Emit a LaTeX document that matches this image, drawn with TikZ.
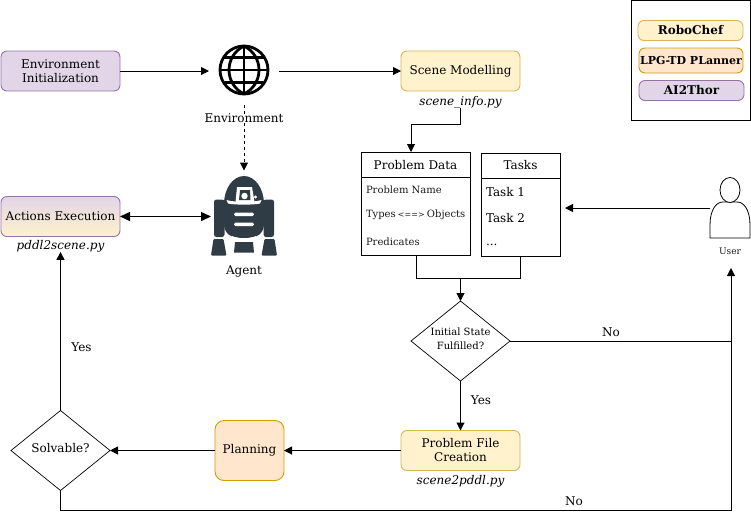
\documentclass[tikz,border=0pt]{standalone}
\usepackage{fontspec}
\setmainfont{DejaVu Serif}
\usetikzlibrary{arrows.meta,shapes.geometric,calc}
\definecolor{purpF}{HTML}{E1D5E7}
\definecolor{purpS}{HTML}{9673A6}
\definecolor{yelF}{HTML}{FFF2CC}
\definecolor{yelS}{HTML}{D6B656}
\definecolor{orF}{HTML}{FFE6CC}
\definecolor{orS}{HTML}{D79B00}
\definecolor{robo}{HTML}{2F3C45}
\tikzset{
  x=1pt,y=-1pt,
  fs/.style={font=\fontsize{#1}{14}\selectfont},
  base/.style={inner sep=0pt,outer sep=0pt,align=center,line width=0.9pt},
  rbox/.style={base,draw,rounded corners=6pt,fs=12},
  purpbox/.style={rbox,draw=purpS,fill=purpF},
  yelbox/.style={rbox,draw=yelS,fill=yelF},
  orbox/.style={rbox,draw=orS,fill=orF},
  tablebox/.style={base,draw=black,rectangle},
  txt/.style={base,fs=12},
  smalltxt/.style={base,fs=10,text=black!90},
  pyfile/.style={base,font=\fontsize{12}{14}\selectfont\itshape},
  decision/.style={base,draw=black,diamond,aspect=1.25,line width=0.7pt},
  conn/.style={line width=1pt,-{Triangle[length=8pt,width=8pt]}},
  biconn/.style={line width=1.5pt,{Triangle[length=10pt,width=9pt]}-{Triangle[length=10pt,width=9pt]}},
  plain/.style={line width=1pt},
}
\begin{document}
\begin{tikzpicture}
\useasboundingbox (0,0) rectangle (751,512);
% legend
\node[tablebox,minimum width=119pt,minimum height=120pt] (legend) at (690.5,60.5) {};
\node[yelbox,minimum width=105pt,minimum height=20pt,font=\fontsize{12}{14}\selectfont\bfseries] (lrobo) at (690.5,30.5) {RoboChef};
\node[orbox,minimum width=104pt,minimum height=25pt,font=\fontsize{11}{12}\selectfont\bfseries] (llpg) at (691,60.5) {LPG-TD PLanner};
\node[purpbox,minimum width=105pt,minimum height=20pt,font=\fontsize{12}{14}\selectfont\bfseries] (lai) at (691.5,90.5) {AI2Thor};
% boxes
\node[purpbox,minimum width=119pt,minimum height=40pt] (envinit) at (60.5,71) {Environment\\Initialization};
\node[base,minimum width=70pt,minimum height=70pt] (globe) at (244,71) {};
\node[txt] (envlabel) at (244,118) {Environment};
\node[yelbox,minimum width=119pt,minimum height=40pt] (scene) at (460.5,71) {Scene Modelling};
\node[pyfile] (sceneinfo) at (460.5,102) {scene\_info.py};
\node[base,minimum width=66pt,minimum height=80pt] (agent) at (244,216.5) {};
\node[txt] (agentlabel) at (244,271) {Agent};
\node[rbox,draw=purpS,top color=purpF,bottom color=yelF,minimum width=119pt,minimum height=40pt] (actions) at (60.5,216.5) {Actions Execution};
\node[pyfile] (pddlscene) at (60.5,246) {pddl2scene.py};
% tables
\node[tablebox,minimum width=109pt,minimum height=103pt] (pdata) at (415.5,203.5) {};
\draw[line width=0.9pt] (361,177) -- (470,177);
\node[txt] (pdatatitle) at (415.5,165) {Problem Data};
\node[smalltxt,anchor=west] (pname) at (366,190) {Problem Name};
\node[smalltxt,anchor=west] (ptypes) at (366,215) {Types\hspace{-1pt} {\fontsize{8}{10}\selectfont<==>}\hspace{-1pt} Objects};
\node[smalltxt,anchor=west] (ppred) at (366,242) {Predicates};
\node[tablebox,minimum width=79pt,minimum height=103pt] (tasks) at (520.5,204.5) {};
\draw[line width=0.9pt] (481,178) -- (560,178);
\node[txt] (taskstitle) at (520.5,165.5) {Tasks};
\node[txt,anchor=west] (t1) at (486,192) {Task 1};
\node[txt,anchor=west] (t2) at (486,218) {Task 2};
\node[txt,anchor=west] (t3) at (486,245) {...};
% user
\node[base,minimum width=40pt,minimum height=60pt] (user) at (730,208) {};
\draw[line width=0.8pt,fill=white] (710,238) -- (750,238) -- (750,225) .. controls (750,210) and (744,202) .. (737,202) -- (723,202) .. controls (716,202) and (710,210) .. (710,225) -- cycle;
\draw[line width=0.8pt,fill=white] (730,190) ellipse [x radius=10,y radius=12.5];
\node[smalltxt,fs=9] (userlabel) at (730,251) {User};
% decisions
\node[decision,minimum width=99pt,minimum height=80pt] (fulfil) at (460.5,341) {};
\node[smalltxt,fs=10,text=black] (fulfilt) at (460.5,339) {Initial State\\Fulfilled?};
\node[yelbox,minimum width=119pt,minimum height=40pt] (pfile) at (460.5,450.5) {\raisebox{-1pt}{Problem File}\\\raisebox{-1pt}{Creation}};
\node[pyfile] (sceneddl) at (460.5,481) {scene2pddl.py};
\node[orbox,rounded corners=9pt,minimum width=69pt,minimum height=60pt] (plan) at (249.5,450.5) {Planning};
\node[decision,minimum width=99pt,minimum height=80pt] (solv) at (60.5,450.5) {};
\node[txt] (solvt) at (60.5,448.5) {Solvable?};
% globe drawing
\begin{scope}[line width=2.8pt]
\draw (244,70) circle (24);
\draw (244,46) -- (244,94);
\draw (220,70) -- (268,70);
\draw (244,46) .. controls (224,56) and (224,84) .. (244,94);
\draw (244,46) .. controls (264,56) and (264,84) .. (244,94);
\draw (224,57.5) -- (264,57.5);
\draw (224,82.5) -- (264,82.5);
\end{scope}
% robot drawing
\begin{scope}
\fill[robo] (224,204) arc[start angle=180,end angle=360,x radius=20,y radius=28] -- cycle;
\fill[robo,rounded corners=2.5pt] (214,199.5) -- (224.5,199.5) -- (224.5,237) -- (214,237) -- cycle;
\fill[robo,rounded corners=2.5pt] (263.5,199.5) -- (274,199.5) -- (274,237) -- (263.5,237) -- cycle;
\fill[robo] (224,203) -- (264,203) -- (264,225) .. controls (263,234) and (258,238) .. (244,238) .. controls (230,238) and (225,234) .. (224,225) -- cycle;
\fill[robo,rounded corners=1pt] (213.5,239) -- (223.5,239) -- (226.5,255.5) -- (211,255.5) -- cycle;
\fill[robo,rounded corners=1pt] (264.5,239) -- (274.5,239) -- (277,255.5) -- (261.5,255.5) -- cycle;
\fill[robo] (235,242) -- (253,242) -- (254,252.5) -- (234,252.5) -- cycle;
\fill[white] (226.5,200) .. controls (234,202.5) and (254,202.5) .. (261.5,200) -- (260,203.5) .. controls (254,205) and (234,205) .. (228,203.5) -- cycle;
\fill[white] (237,187) -- (252,187) -- (254.5,202) -- (235.5,202) -- cycle;
\fill[robo] (240,190) -- (250,190) -- (250.5,200) -- (239,200) -- cycle;
\fill[white] (244.5,196) circle (3.2);
\fill[white] (255.5,197) circle (1.7);
\fill[white,rounded corners=1.5pt] (234,212.5) rectangle (254,216);
\fill[white,rounded corners=1.5pt] (234,222.5) rectangle (254,226);
\fill[white] (232,236) .. controls (238,239) and (250,239) .. (256,236) -- (254,240) -- (234,240) -- cycle;
\end{scope}
% connectors
\draw[conn] (envinit.east) -- (globe.west);
\draw[conn] (globe.east) -- (scene.west);
\coordinate (globeS) at (244,105);
\draw[plain,dash pattern=on 3pt off 3pt] (globeS) -- (envlabel.north);
\draw[conn,dash pattern=on 3pt off 3pt] (envlabel.south) -- ($(agent.north)+(0,-6)$);
\draw[biconn] (actions.east) -- (agent.west |- actions.east);
\draw[conn] (sceneinfo.south) -- ++(0,17) -| ($(pdata.north)+(-4.5,0)$);
\coordinate (joinL) at ($(pdata.south)+(0.5,23)$);
\draw[plain] ($(pdata.south)+(0.5,0)$) -- (joinL) -| (tasks.south);
\draw[conn] (fulfil.north |- joinL) -- (fulfil.north);
\draw[conn,shorten >=5pt] (user.west) -- (tasks.east |- user.west);
\draw[conn] (fulfil.south) -- (pfile.north);
\draw[conn] (pfile.west) -- (plan.east);
\draw[conn] (plan.west) -- (solv.east);
\draw[conn] (solv.north) -- (pddlscene.south);
\coordinate (userIn) at (731,268);
\draw[conn] (fulfil.east) -| (userIn);
\draw[plain] (solv.south) -- (60.5,510.5) -| (userIn |- fulfil.east);
% edge labels
\node[txt] (no1) at (611,332) {No};
\node[txt] (yes1) at (481,400) {Yes};
\node[txt] (yes2) at (81.5,347.5) {Yes};
\node[txt] (no2) at (574,501.5) {No};
\end{tikzpicture}
\end{document}
